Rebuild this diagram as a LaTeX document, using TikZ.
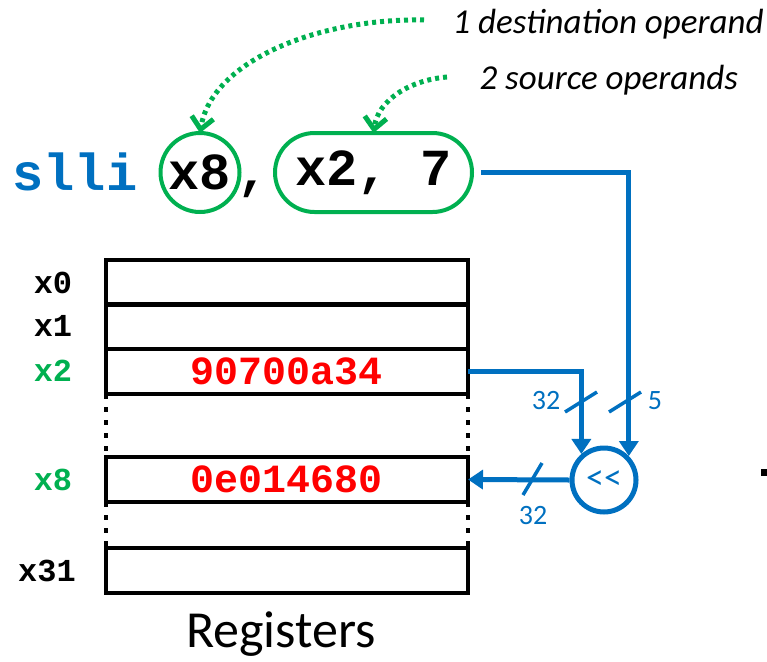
\documentclass[tikz,border=0pt]{standalone}
\usepackage{fontspec}
\setmainfont{Carlito}
\newfontfamily\monofam{Liberation Mono}
\usetikzlibrary{arrows.meta}
\definecolor{ablue}{HTML}{0070C0}
\definecolor{agreen}{HTML}{00B050}
\definecolor{ared}{HTML}{FF0000}
\newcommand\fValue{\monofam\bfseries\fontsize{40}{40}\selectfont}
\newcommand\fLabel{\monofam\bfseries\fontsize{32}{32}\selectfont}
\newcommand\fInstr{\monofam\bfseries\fontsize{52}{52}\selectfont}
\newcommand\fBus{\fontsize{28}{28}\selectfont}
\newcommand\fShift{\fontsize{36}{36}\selectfont}
\newcommand\fNote{\itshape\fontsize{35}{35}\selectfont}
\newcommand\fTitle{\fontsize{52}{52}\selectfont}
\begin{document}
\begin{tikzpicture}[x=1pt,y=-1pt,
  reg/.style={draw, line width=4pt, minimum width=362pt, minimum height=45pt,
    inner sep=0pt, outer sep=0pt, font=\fValue, text=ared},
  reglabel/.style={font=\fLabel},
  bus/.style={draw=ablue, line width=5pt},
  busarrow/.style={bus, -{Triangle[length=15pt,width=19pt]}},
  tick/.style={draw=ablue, line width=3.5pt},
  buslabel/.style={text=ablue, font=\fBus},
  gap/.style={line width=4pt, dash pattern=on 5pt off 8pt},
  operand/.style={draw=agreen, line width=4pt, font=\fInstr, inner sep=0pt, outer sep=0pt},
  hint/.style={draw=agreen, line width=5pt, dash pattern=on 4pt off 4pt,
    -{Straight Barb[length=12pt,width=22pt]}},
  note/.style={font=\fNote, anchor=west}
]
\useasboundingbox (0,0) rectangle (767,661);

% instruction with its operands
\node[font=\fInstr, text=ablue] (op) at (75,172) {slli};
\node[operand, circle, minimum size=79pt] (dst) at (200,172.5) {x8};
\node[font=\fInstr, anchor=base] (comma) at (253,188) {,};
\node[operand, rectangle, rounded corners=39.5pt, minimum width=197pt, minimum height=79pt]
  (src) at (373.5,172.5) {x2, 7};

% operand notes
\node[note] (n1) at (449,24) {1 destination operand};
\node[note] (n2) at (476,80) {2 source operands};
\coordinate (h1) at (424,20);
\coordinate (h2) at (447,77);
\draw[hint] (h1) .. controls (320,18) and (212,60) .. (dst.north);
\draw[hint] (h2) .. controls (410,80) and (378,100) .. (src.north);

% register file
\node[reg] (r0)  at (287,282)   {};
\node[reg] (r1)  at (287,326.5) {};
\node[reg] (r2)  at (287,371.5) {90700a34};
\node[reg] (r8)  at (287,479.5) {0e014680};
\node[reg] (r31) at (287,570.5) {};
\draw[gap] (r2.south west) -- (r8.north west);
\draw[gap] (r2.south east) -- (r8.north east);
\draw[gap] (r8.south west) -- (r31.north west);
\draw[gap] (r8.south east) -- (r31.north east);

\node[reglabel] (l0)  at (53,283) {x0};
\node[reglabel] (l1)  at (53,326) {x1};
\node[reglabel, text=agreen] (l2)  at (53,371) {x2};
\node[reglabel, text=agreen] (l8)  at (53,480) {x8};
\node[reglabel] (l31) at (47,571) {x31};
\node[font=\fTitle] (title) at (281,634) {Registers};

% shifter
\node[circle, draw=ablue, line width=5pt, minimum size=64pt, inner sep=0pt,
  text=ablue, font=\fShift] (shl) at (604,480) {<{}<};
\coordinate (s0) at (481,172);
\draw[busarrow] (s0) -| (shl.44);
\draw[busarrow] (r2.east) -| (shl.131);
\draw[busarrow] (shl.west) -- (r8.east);

% bus widths
\coordinate (t1) at (581,402);
\coordinate (t2) at (625,402);
\coordinate (t3) at (533,479);
\draw[tick] ([shift={(-16,10)}]t1) -- ([shift={(16,-10)}]t1);
\draw[tick] ([shift={(-16,10)}]t2) -- ([shift={(16,-10)}]t2);
\draw[tick] ([shift={(-10,16)}]t3) -- ([shift={(9,-16)}]t3);
\node[buslabel] (w1) at (546,401) {32};
\node[buslabel] (w2) at (655,401) {5};
\node[buslabel] (w3) at (533,516) {32};

% period at the right edge
\fill (761,469) rectangle (767,476);
\end{tikzpicture}
\end{document}
